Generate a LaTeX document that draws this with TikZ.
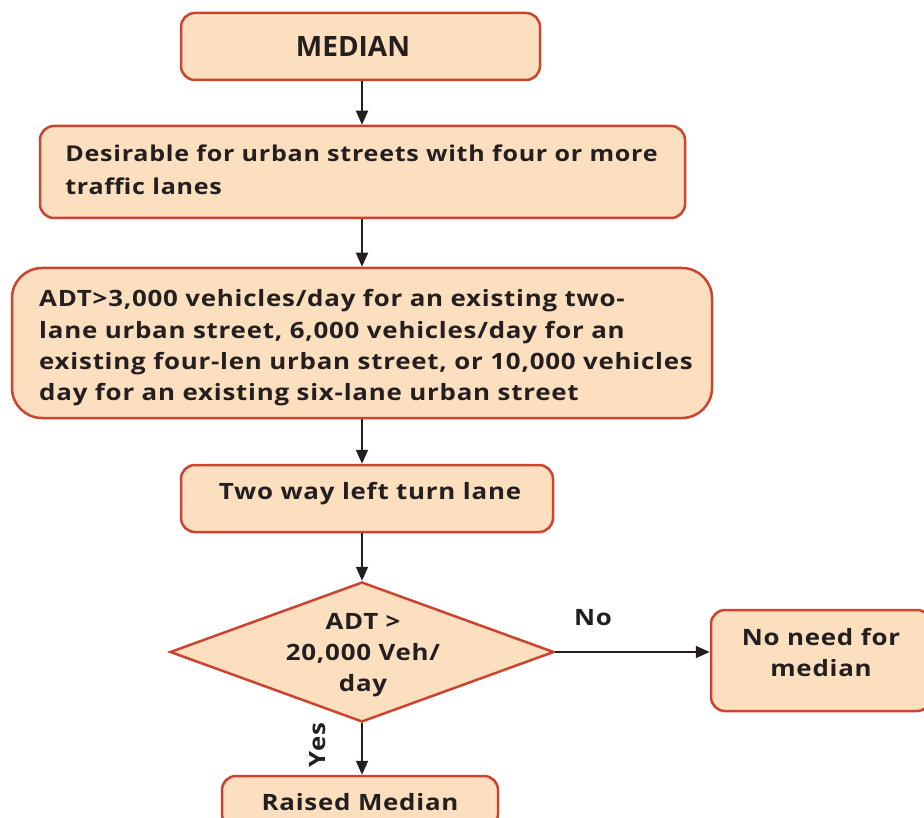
\documentclass[tikz,border=0pt]{standalone}
\usepackage{fontspec}
\setmainfont{Open Sans}[FakeStretch=1.15, LetterSpace=3.4]
\newfontfamily\titlefont{Open Sans}
\usetikzlibrary{shapes.geometric,arrows.meta}
\definecolor{boxfill}{RGB}{252,223,190}
\definecolor{boxline}{RGB}{204,68,48}
\definecolor{txt}{RGB}{35,31,32}
\begin{document}
\begin{tikzpicture}[x=1pt,y=-1pt]
\tikzset{
  bodyfont/.style={font=\bfseries\fontsize{22.5}{31}\selectfont},
  box/.style={draw=boxline, fill=boxfill, line width=2.5pt, rounded corners=14pt, inner sep=0pt, text=txt, bodyfont},
  conn/.style={line width=2pt, draw=txt, -{Triangle[length=14pt,width=12pt]}},
  lbl/.style={text=txt, bodyfont, inner sep=0pt},
}
\clip (0,0) rectangle (924,818);
\useasboundingbox (0,0) rectangle (924,818);
\fill[white] (0,0) rectangle (924,818);

\node[box, minimum width=359pt, minimum height=67pt, font=\titlefont\bfseries\fontsize{28}{34}\selectfont] (median) at (360.5,46.5) {\hspace*{-15pt}MEDIAN};
\node[box, minimum width=645pt, minimum height=92pt] (desir) at (362.5,172) {};
\node[lbl, align=left, font=\bfseries\fontsize{21.8}{33}\selectfont] (desirtext) at (361.5,170) {Desirable for urban streets with four or more\\traffic lanes};
\node[box, rounded corners=30pt, minimum width=700pt, minimum height=150pt] (adt) at (362,343) {};
\node[lbl, align=left, font=\bfseries\fontsize{22.5}{31.3}\selectfont] (adttext) at (366,348) {ADT>3,000 vehicles/day for an existing two-\\lane urban street, 6,000 vehicles/day for an\\existing four-len urban street, or 10,000 vehicles\\day for an existing six-lane urban street};
\node[box, minimum width=372pt, minimum height=67pt] (twoway) at (367,498.5) {};
\node[lbl] (twowaytext) at (370,494) {Two way left turn lane};
\node[diamond, draw=boxline, fill=boxfill, line width=2.5pt, inner sep=0pt, minimum width=384pt, minimum height=140pt, aspect=2.74] (dia) at (362,652) {};
\node[lbl, align=center] (diatext) at (363,655) {ADT >\\20,000 Veh/\\day};
\node[box, minimum width=220pt, minimum height=101pt] (noneed) at (821,660.5) {};
\node[lbl, align=center] (noneedtext) at (821,652) {No need for\\median};
\node[box, minimum width=276pt, minimum height=52pt] (raised) at (360,802) {Raised Median};

\draw[conn] (median.south -| dia.center) -- (desir.north -| dia.center);
\draw[conn] (desir.south -| dia.center) -- (adt.north -| dia.center);
\draw[conn] (adt.south -| dia.center) -- (twoway.north -| dia.center);
\draw[conn] (twoway.south -| dia.center) -- (dia.north);
\draw[conn] (dia.east) -- (dia.east -| noneed.west);
\draw[conn] (dia.south) -- (raised.north -| dia.center);

\node[lbl] (nolbl) at (593,618) {No};
\node[lbl, rotate=90] (yeslbl) at (318,745) {Yes};
\end{tikzpicture}
\end{document}
